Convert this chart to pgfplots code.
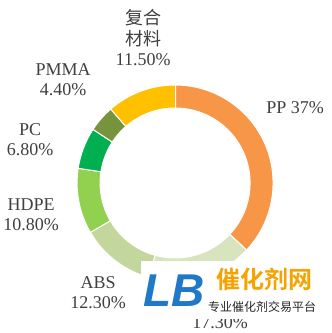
\documentclass[border=0pt]{standalone}
\usepackage{pgfplots}
\usepackage{pgfplotstable}
\pgfplotsset{compat=1.18}
\usepackage{fontspec}
\setmainfont{Liberation Serif}
\newfontfamily\cjk{Noto Sans CJK SC}
\newfontfamily\cjkb{Noto Sans CJK SC Bold}
\newfontfamily\sansb{Liberation Sans}
\definecolor{c0}{HTML}{F79646}
\definecolor{c1}{HTML}{D7E4BD}
\definecolor{c2}{HTML}{C3D69B}
\definecolor{c3}{HTML}{92D050}
\definecolor{c4}{HTML}{00B050}
\definecolor{c5}{HTML}{77933C}
\definecolor{c6}{HTML}{FFC000}
\definecolor{txt}{HTML}{404040}
\definecolor{logoblue}{HTML}{1F78C8}
\definecolor{logoorange}{HTML}{F5A300}
\pgfplotstableread{
val
37
17.3
12.3
10.8
6.8
4.4
11.5
}\piedata
\begin{document}
\begin{tikzpicture}
\begin{axis}[x=1pt,y=1pt,xmin=0,xmax=331,ymin=0,ymax=333,hide axis,clip=false]
\fill[white] (axis cs:0,0) rectangle (axis cs:331,333);
\def\startang{90}
\pgfplotsforeachungrouped \i in {0,...,6}{%
  \pgfplotstablegetelem{\i}{val}\of\piedata
  \pgfmathsetmacro\endang{\startang-3.6*\pgfplotsretval}
  \pgfmathsetmacro\xa{175+98*cos(\startang)}
  \pgfmathsetmacro\ya{150+98*sin(\startang)}
  \pgfmathsetmacro\xb{175+75*cos(\endang)}
  \pgfmathsetmacro\yb{150+75*sin(\endang)}
  \edef\cmd{\noexpand\fill[fill=c\i,draw=white,line width=1pt] (axis cs:\xa,\ya) arc[start angle=\startang,end angle=\endang,radius=98pt] -- (axis cs:\xb,\yb) arc[start angle=\endang,end angle=\startang,radius=75pt] -- cycle;}
  \cmd
  \global\let\startang\endang
}
\begin{scope}[font=\fontsize{18}{20}\selectfont,text=txt]
\node[align=center] at (axis cs:143,295) {{\cjk 复合}\\[1pt]{\cjk 材料}\\11.50\%};
\node[align=center] at (axis cs:63,253) {PMMA\\4.40\%};
\node[align=center] at (axis cs:30,193) {PC\\6.80\%};
\node[align=center] at (axis cs:31,118) {HDPE\\10.80\%};
\node[align=center] at (axis cs:98,40) {ABS\\12.30\%};
\node at (axis cs:295,225) {PP 37\%};
\node at (axis cs:220,10) {17.30\%};
\end{scope}
\fill[white] (axis cs:141,14) rectangle (axis cs:331,72);
\node[font=\sansb\bfseries\itshape\fontsize{46}{46}\selectfont,text=logoblue,inner sep=0pt] at (axis cs:174,42) {LB};
\node[font=\cjkb\fontsize{24}{24}\selectfont,text=logoorange,inner sep=0pt] at (axis cs:264,54) {催化剂网};
\node[font=\cjk\fontsize{12}{12}\selectfont,text=black!85,inner sep=0pt] at (axis cs:262,26) {专业催化剂交易平台};
\end{axis}
\end{tikzpicture}
\end{document}
